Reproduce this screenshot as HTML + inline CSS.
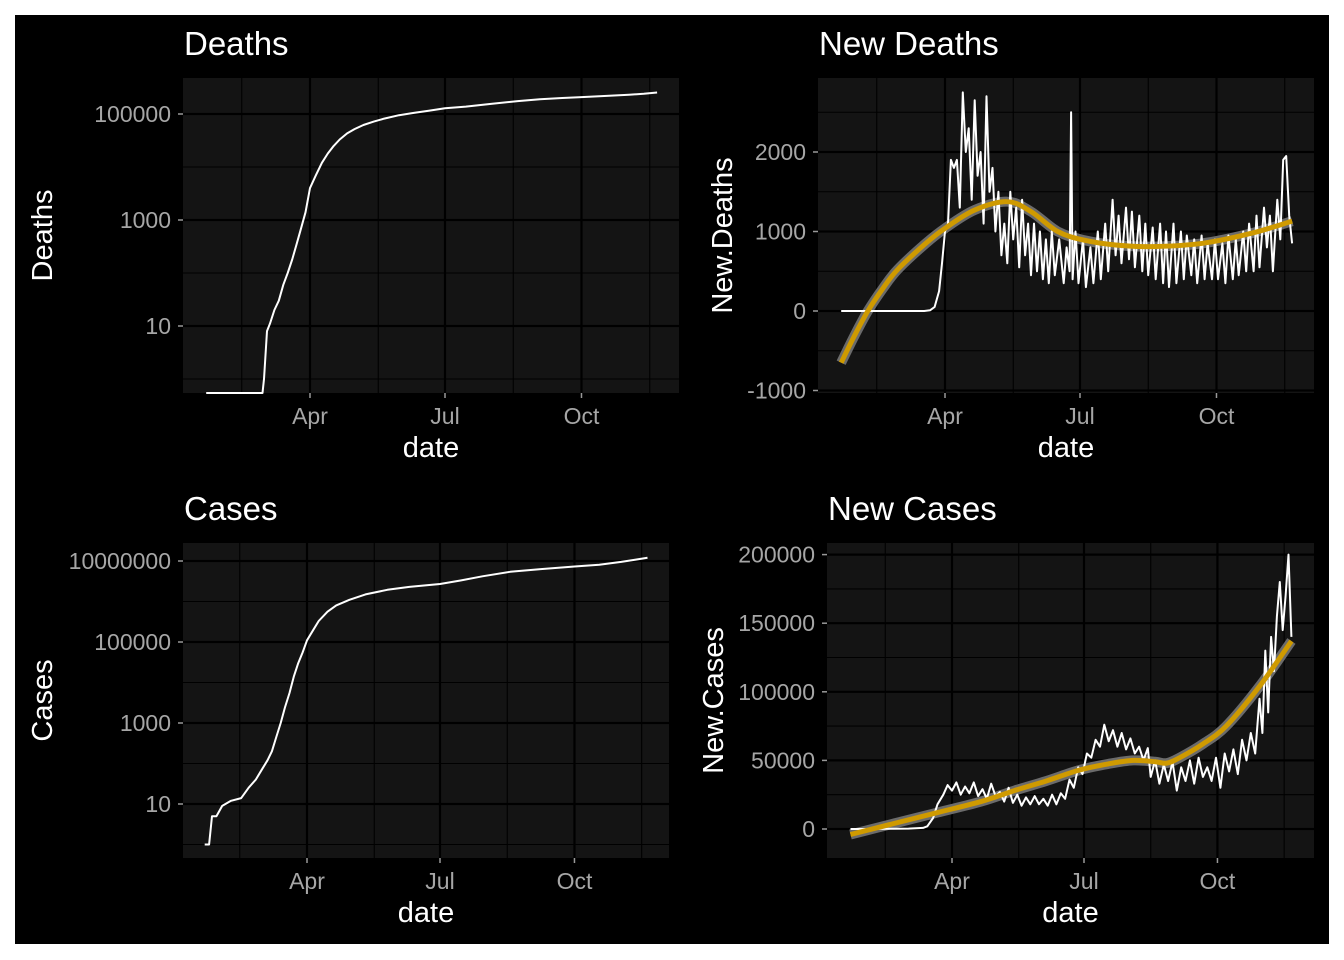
<!DOCTYPE html>
<html><head><meta charset="utf-8"><style>
html,body{margin:0;padding:0;background:#fff}
svg{display:block;font-family:"Liberation Sans",Arial,sans-serif}
</style></head><body>
<svg id="chart" width="1344" height="960" viewBox="0 0 1344 960">
<rect x="0" y="0" width="1344" height="960" fill="#fff"/>
<rect x="15" y="15" width="1314" height="929" fill="#000"/>
<g id="root"></g>
</svg>
<script>
// ---- data (day offsets from Jan 22) ----
const monthTicks = ["Apr","Jul","Oct"];
const monthTickDays = [70,161,253];
const minorDays = [24,116,207,299];

const deathDays = [0,38,39,41,43,46,49,52,55,58,61,64,67,70,74,78,82,86,90,95,100,106,113,120,130,140,150,161,175,192,210,225,240,253,270,285,295,304];
const deathVals = [0,0,1,8,11,20,30,60,100,180,350,700,1400,4000,7000,12000,18000,25000,33000,43000,52000,62000,72000,82000,95000,105000,115000,128000,138000,155000,175000,190000,200000,208000,220000,231000,240000,255000];

const caseDays = [0,3,5,8,12,18,25,30,35,39,43,46,49,52,55,58,61,64,67,70,74,78,84,90,99,110,125,140,161,175,190,209,230,253,270,285,295,303];
const caseVals = [1,1,5,5,9,12,14,25,40,70,120,200,450,1000,2500,5500,14000,30000,55000,110000,190000,330000,560000,800000,1100000,1500000,1950000,2300000,2700000,3300000,4200000,5400000,6300000,7300000,8100000,9500000,10800000,12000000];

const ndDays = [0,56,60,63,66,68,70,72,74,76,78,80,82,84,86,88,90,92,94,96,98,100,102,104,106,108,110,112,114,116,118,120,122,124,126,128,130,132,134,136,138,140,142,144,147,150,152,154,155,156,158,160,163,165,168,170,173,175,178,180,183,185,187,189,192,194,196,198,201,203,205,207,210,212,215,217,219,221,224,226,229,231,233,236,238,240,243,245,247,250,252,254,257,259,261,264,266,268,271,273,275,278,280,282,285,287,289,291,294,296,298,300,302,304];
const ndVals = [0,0,10,50,250,600,1000,1100,1900,1800,1900,1300,2750,2000,2300,1400,2650,1700,2000,1100,2700,1500,1800,1000,1500,700,1100,600,1500,900,1300,550,1400,700,1100,450,1100,500,1000,400,900,350,1000,450,900,350,800,500,2500,400,1000,350,900,300,800,350,1000,400,1100,500,1400,700,1200,600,1300,650,1250,550,1200,500,1100,450,1050,400,1100,350,1000,300,1100,350,1000,400,950,450,900,350,950,400,850,400,900,400,850,350,950,400,900,450,1000,500,1100,500,1200,550,1300,800,1200,500,1400,900,1900,1950,1200,850];
const ndSmoothDays = [0,9,18,28,38,57,70,90,112,128,146,164,185,209,243,276,304];
const ndSmoothVals = [-650,-310,0,280,520,850,1040,1270,1375,1250,1000,890,830,810,850,975,1130];

const ncDays = [0,10,20,30,40,50,53,57,60,64,67,70,73,76,79,82,85,88,91,94,97,100,103,106,109,112,115,118,121,124,127,130,133,136,139,142,145,148,151,154,157,160,163,166,169,172,175,178,181,184,187,190,193,196,199,202,205,207,210,213,216,219,222,225,228,231,234,237,240,243,246,249,252,255,258,261,264,267,270,273,276,279,282,284,286,288,290,292,294,296,298,300,302,304];
const ncVals = [0,0,100,200,300,800,2000,8000,18000,25000,32000,28000,34000,25000,31000,26000,34000,24000,29000,22000,33000,24000,27000,20000,30000,19000,25000,17000,23000,18000,24000,18000,22000,17000,25000,18000,26000,22000,36000,30000,45000,40000,55000,52000,65000,60000,76000,64000,72000,60000,70000,58000,66000,55000,60000,50000,59000,38000,50000,33000,47000,35000,49000,28000,45000,35000,50000,33000,52000,38000,45000,35000,52000,30000,55000,42000,58000,40000,65000,50000,70000,55000,95000,70000,130000,85000,140000,115000,155000,180000,145000,170000,200000,140000];
const ncSmoothDays = [0,30,60,90,113,135,158,178,195,210,218,227,243,259,282,304];
const ncSmoothVals = [-4000,4000,12000,20000,28000,35000,43000,47500,50000,49000,48000,52000,62000,75000,104000,137000];

const deathTicks = ["100000","1000","10"]; const deathTickVals=[100000,1000,10];
const caseTicks = ["10000000","100000","1000","10"]; const caseTickVals=[10000000,100000,1000,10];
const ndTicks = ["2000","1000","0","-1000"]; const ndTickVals=[2000,1000,0,-1000];
const ncTicks = ["200000","150000","100000","50000","0"]; const ncTickVals=[200000,150000,100000,50000,0];

const NS="http://www.w3.org/2000/svg";
const root=document.getElementById('root');
function mk(tag,attrs,parent,text){const e=document.createElementNS(NS,tag);for(const k in attrs)e.setAttribute(k,attrs[k]);if(text!==undefined)e.textContent=text;(parent||root).appendChild(e);return e;}

function panel(cfg){
  const g=mk('g',{});
  
  
  const xs=d=>cfg.xApr+(d-70)*cfg.k;
  const ys=cfg.ys;
  const bg=mk('rect',{x:cfg.x0,y:cfg.y0,width:cfg.x1-cfg.x0,height:cfg.y1-cfg.y0,fill:'#141414'},g);
  
  
  minorDays.forEach(d=>{const x=xs(d);if(x>cfg.x0&&x<cfg.x1)mk('line',{x1:x,x2:x,y1:cfg.y0,y2:cfg.y1,stroke:'#000','stroke-width':1.1},g);});
  cfg.minorY.forEach(v=>{const y=ys(v);if(y>cfg.y0&&y<cfg.y1)mk('line',{x1:cfg.x0,x2:cfg.x1,y1:y,y2:y,stroke:'#000','stroke-width':1.1},g);});
  monthTickDays.forEach(d=>{const x=xs(d);mk('line',{x1:x,x2:x,y1:cfg.y0,y2:cfg.y1,stroke:'#000','stroke-width':2.2},g);});
  cfg.tickVals.forEach(v=>{const y=ys(v);mk('line',{x1:cfg.x0,x2:cfg.x1,y1:y,y2:y,stroke:'#000','stroke-width':2.2},g);});
  if(cfg.sDays){
    const pts=cfg.sDays.map((d,i)=>[xs(d),ys(cfg.sVals[i])]);
    let p='M'+pts[0][0]+','+pts[0][1];
    for(let i=0;i<pts.length-1;i++){const p0=pts[Math.max(0,i-1)],p1=pts[i],p2=pts[i+1],p3=pts[Math.min(pts.length-1,i+2)];
      p+=' C'+(p1[0]+(p2[0]-p0[0])/6)+','+(p1[1]+(p2[1]-p0[1])/6)+' '+(p2[0]-(p3[0]-p1[0])/6)+','+(p2[1]-(p3[1]-p1[1])/6)+' '+p2[0]+','+p2[1];}
    const band=mk('path',{d:p,fill:'none',stroke:'#6b6b6b','stroke-width':10,'stroke-linecap':'butt'},g);
    
    
    cfg.smoothPath=p;
  }
  const d=cfg.days.map((dd,i)=>(i?'L':'M')+xs(dd).toFixed(1)+','+ys(cfg.vals[i]).toFixed(1)).join(' ');
  const ln=mk('path',{d:d,fill:'none',stroke:'#fff','stroke-width':2,'stroke-linejoin':'round'},g);
  
  
  if(cfg.smoothPath){
    const sm=mk('path',{d:cfg.smoothPath,fill:'none',stroke:'#cf9a00','stroke-width':5},g);
    
    
  }
  cfg.tickVals.forEach((v,i)=>{const y=ys(v);
    mk('line',{x1:cfg.x0-5,x2:cfg.x0,y1:y,y2:y,stroke:'#999','stroke-width':1.5},g);
    const t=mk('text',{x:cfg.x0-12,y:y+8,'text-anchor':'end','font-size':23,fill:'#a6a6a6'},g,cfg.ticks[i]);
    
    
  });
  monthTickDays.forEach((dd,i)=>{const x=xs(dd);
    mk('line',{x1:x,x2:x,y1:cfg.y1,y2:cfg.y1+5,stroke:'#999','stroke-width':1.5},g);
    const t=mk('text',{x:x,y:cfg.y1+31,'text-anchor':'middle','font-size':23,fill:'#a6a6a6'},g,monthTicks[i]);
    
    
  });
  const xt=mk('text',{x:(cfg.x0+cfg.x1)/2,y:cfg.y1+64,'text-anchor':'middle','font-size':29,fill:'#fff'},g,'date');
  
  
  const yt=mk('text',{x:0,y:0,'text-anchor':'middle','font-size':29,fill:'#fff',transform:'translate('+cfg.ytX+','+(cfg.y0+cfg.y1)/2+') rotate(-90)'},g,cfg.yTitle);
  
  
  const tt=mk('text',{x:cfg.x0+1,y:cfg.y0-23,'font-size':33,fill:'#fff'},g,cfg.title);
  
  
}

const dY=v=>v<=0?393:326-(Math.log10(v)-1)*53;
panel({name:'deaths',x0:183,x1:679,y0:78,y1:393,xApr:310,k:135/91,ys:dY,days:deathDays,vals:deathVals,
  tickVals:deathTickVals,ticks:deathTicks,minorY:[1,100,10000,1000000],yTitle:'Deaths',ytX:52,title:'Deaths'});

const ndY=v=>311-v*0.0795;
panel({name:'new-deaths',x0:818,x1:1314,y0:78,y1:393,xApr:945,k:135/91,ys:ndY,days:ndDays,vals:ndVals,sDays:ndSmoothDays,sVals:ndSmoothVals,
  tickVals:ndTickVals,ticks:ndTicks,minorY:[2500,1500,500,-500],yTitle:'New.Deaths',ytX:732,title:'New Deaths'});

const cY=v=>v<=0?858:804-(Math.log10(v)-1)*40.5;
panel({name:'cases',x0:183,x1:669,y0:543,y1:858,xApr:307,k:133/91,ys:cY,days:caseDays,vals:caseVals,
  tickVals:caseTickVals,ticks:caseTicks,minorY:[1,100,10000,1000000,100000000],yTitle:'Cases',ytX:52,title:'Cases'});

const ncY=v=>829-v*0.001372;
panel({name:'new-cases',x0:827,x1:1314,y0:543,y1:858,xApr:952,k:132/91,ys:ncY,days:ncDays,vals:ncVals,sDays:ncSmoothDays,sVals:ncSmoothVals,
  tickVals:ncTickVals,ticks:ncTicks,minorY:[175000,125000,75000,25000],yTitle:'New.Cases',ytX:723,title:'New Cases'});
</script>
</body></html>
